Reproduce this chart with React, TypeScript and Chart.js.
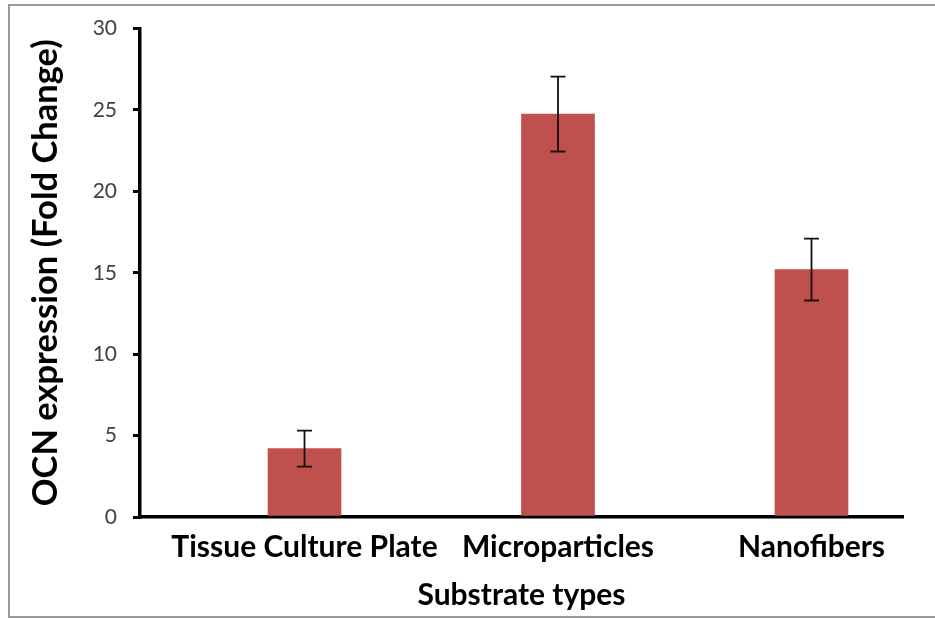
import React, { useEffect, useRef } from "react";
import { Chart, registerables } from "chart.js";

Chart.register(...registerables);

const categories = ["Tissue Culture Plate", "Microparticles", "Nanofibers"];
const values = [4.2, 24.75, 15.2];
const errors = [1.1, 2.3, 1.9];
const yTicks = [0, 5, 10, 15, 20, 25, 30];

const BAR_COLOR = "#C0504D";
const FONT = "Lato, 'Liberation Sans', sans-serif";

const frameAndErrors = {
  id: "frameAndErrors",
  beforeDraw(chart: any) {
    const ctx = chart.ctx;
    ctx.save();
    ctx.fillStyle = "#ffffff";
    ctx.fillRect(0, 0, chart.width, chart.height);
    ctx.strokeStyle = "#9a9a9a";
    ctx.lineWidth = 2;
    ctx.beginPath();
    ctx.moveTo(chart.width + 5, 5);
    ctx.lineTo(9, 5);
    ctx.lineTo(9, 617);
    ctx.lineTo(chart.width + 5, 617);
    ctx.stroke();
    ctx.restore();
  },
  afterDatasetsDraw(chart: any) {
    const ctx = chart.ctx;
    const xs = chart.scales.x;
    const ys = chart.scales.y;
    ctx.save();
    ctx.strokeStyle = "#111111";
    ctx.lineWidth = 1.8;
    values.forEach((v, i) => {
      const x = xs.getPixelForValue(i);
      const yTop = ys.getPixelForValue(v + errors[i]);
      const yBot = ys.getPixelForValue(v - errors[i]);
      const cap = 7.5;
      ctx.beginPath();
      ctx.moveTo(x, yTop);
      ctx.lineTo(x, yBot);
      ctx.moveTo(x - cap, yTop);
      ctx.lineTo(x + cap, yTop);
      ctx.moveTo(x - cap, yBot);
      ctx.lineTo(x + cap, yBot);
      ctx.stroke();
    });
    ctx.restore();
  },
};

export default function App() {
  const ref = useRef<HTMLCanvasElement>(null);
  useEffect(() => {
    if (!ref.current) return;
    const chart = new Chart(ref.current, {
      type: "bar",
      data: {
        datasets: [
          {
            data: values.map((v, i) => ({ x: i, y: v })),
            backgroundColor: BAR_COLOR,
            borderWidth: 0,
            barThickness: 73,
          },
        ],
      },
      options: {
        responsive: false,
        animation: false,
        events: [],
        layout: { padding: { left: 0, top: 21, right: 32, bottom: 0 } },
        plugins: {
          legend: { display: false },
          tooltip: { enabled: false },
          title: { display: false },
        },
        scales: {
          x: {
            type: "linear",
            offset: false,
            min: -0.649,
            max: 2.361,
            afterFit(scale: any) {
              scale.height = 102;
            },
            afterBuildTicks(scale: any) {
              scale.ticks = categories.map((_, i) => ({ value: i }));
            },
            ticks: {
              autoSkip: false,
              maxRotation: 0,
              padding: 4,
              color: "#000000",
              font: { family: FONT, size: 30, weight: "bold" },
              callback: (v: any) => categories[v as number] ?? "",
            },
            grid: { display: false },
            border: { display: true, color: "#000000", width: 3.5 },
            title: {
              display: true,
              text: "Substrate types",
              color: "#000000",
              font: { family: FONT, size: 30, weight: "bold" },
              padding: { top: 0, bottom: 6 },
            },
          },
          y: {
            min: 0,
            max: 30,
            afterFit(scale: any) {
              scale.width = 140;
            },
            afterBuildTicks(scale: any) {
              scale.ticks = yTicks.map((v) => ({ value: v }));
            },
            ticks: {
              padding: 16,
              color: "#404040",
              font: { family: FONT, size: 21 },
            },
            grid: {
              display: true,
              drawOnChartArea: false,
              drawTicks: true,
              tickLength: 7,
              color: "#000000",
              lineWidth: 3,
            },
            border: { display: true, color: "#000000", width: 3.5 },
            title: {
              display: true,
              text: "OCN expression (Fold Change)",
              color: "#000000",
              font: { family: FONT, size: 34.5, weight: "bold" },
              padding: { top: 25, bottom: 0 },
            },
          },
        },
      },
      plugins: [frameAndErrors],
    });
    return () => chart.destroy();
  }, []);
  return (
    <div style={{ position: "absolute", left: 0, top: 0, width: 935, height: 619 }}>
      <canvas ref={ref} width={935} height={619} />
    </div>
  );
}
